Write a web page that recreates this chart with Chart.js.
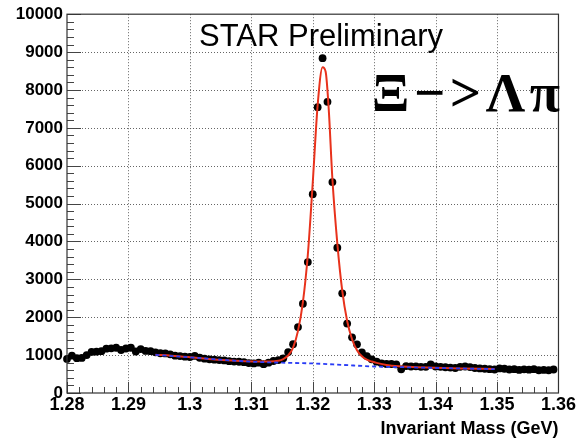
<!DOCTYPE html>
<html><head><meta charset="utf-8">
<script src="https://cdn.jsdelivr.net/npm/chart.js@4"></script>
<style>html,body{margin:0;padding:0;background:#fff;}canvas{display:block;}</style>
</head><body>
<canvas id="c" width="577" height="441"></canvas>
<script>
// ---- data ----
const massBins = [1.2800,1.2808,1.2816,1.2824,1.2832,1.2840,1.2848,1.2856,1.2864,1.2872,
  1.2880,1.2888,1.2896,1.2904,1.2912,1.2920,1.2928,1.2936,1.2944,1.2952,
  1.2960,1.2968,1.2976,1.2984,1.2992,1.3000,1.3008,1.3016,1.3024,1.3032,
  1.3040,1.3048,1.3056,1.3064,1.3072,1.3080,1.3088,1.3096,1.3104,1.3112,
  1.3120,1.3128,1.3136,1.3144,1.3152,1.3160,1.3168,1.3176,1.3184,1.3192,
  1.3200,1.3208,1.3216,1.3224,1.3232,1.3240,1.3248,1.3256,1.3264,1.3272,
  1.3280,1.3288,1.3296,1.3304,1.3312,1.3320,1.3328,1.3336,1.3344,1.3352,
  1.3360,1.3368,1.3376,1.3384,1.3392,1.3400,1.3408,1.3416,1.3424,1.3432,
  1.3440,1.3448,1.3456,1.3464,1.3472,1.3480,1.3488,1.3496,1.3504,1.3512,
  1.3520,1.3528,1.3536,1.3544,1.3552,1.3560,1.3568,1.3576,1.3584,1.3592];
const counts = [900,985,920,925,1000,1085,1090,1105,1170,1180,
  1195,1135,1175,1195,1095,1160,1110,1105,1075,1050,
  1045,1020,985,975,960,950,980,930,905,890,
  880,870,860,840,830,825,815,790,780,800,
  760,800,845,870,915,1080,1290,1740,2356,3456,
  5250,7546,8839,7686,5567,3834,2631,1834,1470,1285,
  1074,976,889,826,784,765,765,755,625,712,
  700,705,690,690,757,700,690,680,670,660,
  690,700,685,660,650,640,630,620,650,640,
  620,630,610,625,615,630,600,610,600,620];
const fitMass = [1.2944,1.2970,1.3000,1.3030,1.3060,1.3090,1.3110,1.3130,1.3144,1.3152,
  1.3160,1.3168,1.3176,1.3184,1.3192,1.3200,1.3208,1.3216,1.3221,1.3226,
  1.3232,1.3240,1.3248,1.3256,1.3264,1.3272,1.3280,1.3288,1.3296,1.3304,
  1.3320,1.3340,1.3370,1.3400,1.3440,1.3496];
const fitTotal = [1010,985,945,900,865,840,830,830,850,895,
  990,1200,1640,2400,3650,5550,7600,8600,8480,7500,
  5650,3950,2700,1900,1420,1130,970,880,830,795,
  740,705,682,665,650,635];
const bkgMass = [1.2944,1.3000,1.3050,1.3100,1.3150,1.3200,1.3250,1.3300,1.3350,1.3400,1.3450,1.3496];
const bkgValues = [1005,942,880,826,800,780,740,700,680,662,645,630];
const xTickLabels = [1.28,1.29,1.30,1.31,1.32,1.33,1.34,1.35,1.36];
const yTickLabels = [0,1000,2000,3000,4000,5000,6000,7000,8000,9000,10000];
const xMinor = 0.002, yMinor = 200;
const titleText = 'STAR Preliminary';
const decayText = 'Ξ−>Λπ';
const axisTitle = 'Invariant Mass (GeV)';

const SANS = '"Liberation Sans", Arial, Helvetica, sans-serif';
const SERIF = '"Liberation Serif", "Times New Roman", serif';

const rootStyle = {
  id: 'rootStyle',
  beforeDatasetsDraw(chart) {
    const {ctx, chartArea: a, scales: {x, y}} = chart;
    ctx.save();
    ctx.strokeStyle = '#666'; ctx.lineWidth = 1; ctx.setLineDash([1, 2]);
    xTickLabels.slice(1, -1).forEach(v => {
      const px = Math.round(x.getPixelForValue(v)) + 0.5;
      ctx.beginPath(); ctx.moveTo(px, a.top); ctx.lineTo(px, a.bottom); ctx.stroke();
    });
    yTickLabels.slice(1, -1).forEach(v => {
      const py = Math.round(y.getPixelForValue(v)) + 0.5;
      ctx.beginPath(); ctx.moveTo(a.left, py); ctx.lineTo(a.right, py); ctx.stroke();
    });
    ctx.setLineDash([]);
    ctx.strokeStyle = '#444'; ctx.lineWidth = 1;
    for (let v = x.min; v <= x.max + 1e-9; v += xMinor) {
      const major = xTickLabels.some(t => Math.abs(t - v) < 1e-6);
      const px = Math.round(x.getPixelForValue(v)) + 0.5;
      ctx.beginPath(); ctx.moveTo(px, a.bottom); ctx.lineTo(px, a.bottom - (major ? 11 : 6)); ctx.stroke();
    }
    for (let v = y.min; v <= y.max + 1e-6; v += yMinor) {
      const major = yTickLabels.some(t => Math.abs(t - v) < 1e-6);
      const py = Math.round(y.getPixelForValue(v)) + 0.5;
      ctx.beginPath(); ctx.moveTo(a.left, py); ctx.lineTo(a.left + (major ? 14 : 7), py); ctx.stroke();
    }
    ctx.restore();
  },
  afterDatasetsDraw(chart) {
    const {ctx, chartArea: a} = chart;
    ctx.save();
    ctx.strokeStyle = '#333'; ctx.lineWidth = 1.2;
    ctx.strokeRect(a.left, a.top, a.right - a.left, a.bottom - a.top);
    ctx.fillStyle = '#000';
    ctx.font = '31px ' + SANS; ctx.textAlign = 'center'; ctx.textBaseline = 'alphabetic';
    ctx.fillText(titleText, 321, 46);
    ctx.font = 'bold 55px ' + SERIF; ctx.textAlign = 'left';
    const w = ctx.measureText(decayText).width;
    const target = 188;
    const n = [...decayText].length;
    ctx.letterSpacing = ((target - w) / (n - 1)).toFixed(2) + 'px';
    ctx.fillText(decayText, 372, 111);
    ctx.restore();
  }
};

new Chart(document.getElementById('c'), {
  type: 'scatter',
  data: {
    datasets: [
      { label: 'data', data: massBins.map((m, i) => ({x: m, y: counts[i]})),
        showLine: false, pointRadius: 3.9, pointHoverRadius: 3.9, pointBackgroundColor: '#000',
        pointBorderWidth: 0, clip: false, order: 3 },
      { label: 'fit', data: fitMass.map((m, i) => ({x: m, y: fitTotal[i]})),
        showLine: true, pointRadius: 0, borderColor: '#e8321c', borderWidth: 2,
        cubicInterpolationMode: 'monotone', fill: false, order: 2 },
      { label: 'background', data: bkgMass.map((m, i) => ({x: m, y: bkgValues[i]})),
        showLine: true, pointRadius: 0, borderColor: '#2a3cf5', borderWidth: 1.8,
        borderDash: [4, 3], cubicInterpolationMode: 'monotone', fill: false, order: 1 }
    ]
  },
  options: {
    responsive: false, animation: false, events: [],
    layout: { padding: { left: 0, right: 17.5, top: 14, bottom: 0 } },
    plugins: { legend: { display: false }, tooltip: { enabled: false } },
    scales: {
      x: {
        type: 'linear', min: 1.28, max: 1.36,
        afterBuildTicks: s => { s.ticks = xTickLabels.map(v => ({value: v})); },
        ticks: { callback: v => String(parseFloat(Number(v).toFixed(2))),
          font: { family: SANS, weight: 'bold', size: 18 }, color: '#000', padding: 1,
          maxRotation: 0, autoSkip: false },
        grid: { display: false, drawTicks: false }, border: { display: false },
        title: { display: true, text: axisTitle, align: 'end', color: '#000',
          font: { family: SANS, weight: 'bold', size: 18 }, padding: { top: 0, bottom: 1 } },
        afterFit: s => { s.height = 48; }
      },
      y: {
        type: 'linear', min: 0, max: 10000,
        afterBuildTicks: s => { s.ticks = yTickLabels.map(v => ({value: v})); },
        ticks: { callback: v => String(v), font: { family: SANS, weight: 'bold', size: 17 },
          color: '#000', padding: 4, autoSkip: false },
        grid: { display: false, drawTicks: false }, border: { display: false },
        afterFit: s => { s.width = 67; }
      }
    }
  },
  plugins: [rootStyle]
});
</script>
</body></html>
